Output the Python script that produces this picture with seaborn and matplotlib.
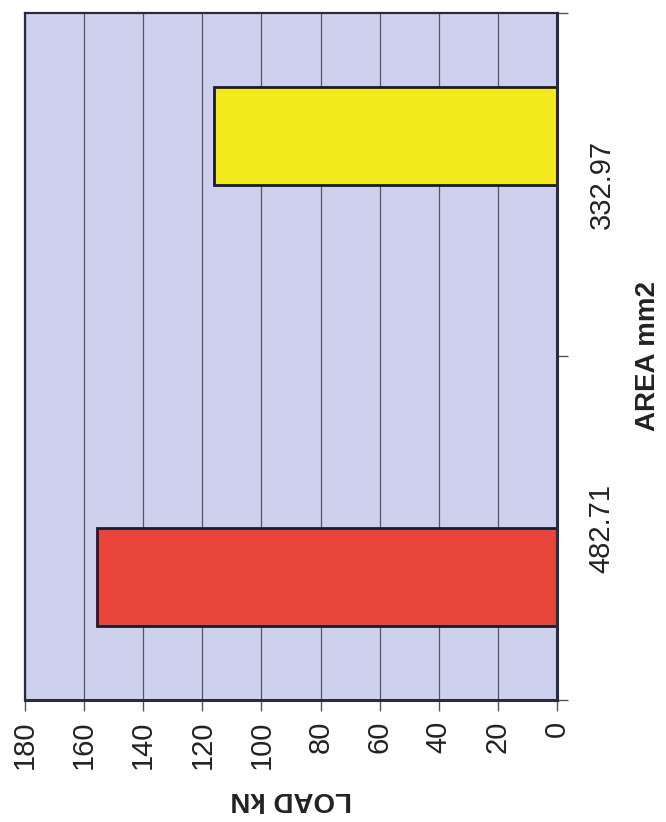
import matplotlib
matplotlib.use("Agg")
import matplotlib.pyplot as plt
import seaborn as sns
import pandas as pd

# ---- data ----
areas = ["482.71", "332.97"]          # category labels (AREA mm2)
loads = [155.5, 116.0]                # LOAD kN
series = ["Series1", "Series2"]       # each bar belongs to its own series (Excel clustered)
series_colors = {"Series1": "#E8443A", "Series2": "#F3EA1E"}
value_ticks = [0, 20, 40, 60, 80, 100, 120, 140, 160, 180]

df = pd.DataFrame({"area": areas, "load": loads, "series": series})

sns.set_theme(style="white")
plt.rcParams["font.family"] = ["Liberation Sans", "DejaVu Sans"]

fig = plt.figure(figsize=(6.66, 8.22), dpi=100)
fig.patch.set_facecolor("white")
ax = fig.add_axes([25 / 666, 1 - 700 / 822, (557 - 25) / 666, (700 - 13) / 822])
ax.set_facecolor("#CED1EE")

sns.barplot(
    data=df, x="load", y="area", hue="series",
    order=["332.97", "482.71"], hue_order=["Series2", "Series1"],
    palette=series_colors, saturation=1, width=0.57, dodge=True,
    edgecolor="#1C1A30", linewidth=2, legend=False, ax=ax, zorder=3,
)

ax.set_xlim(180, 0)
ax.set_ylim(1.5, -0.5)
ax.set_xticks(value_ticks)
ax.set_xticklabels([str(v) for v in value_ticks], rotation=90, fontsize=21, color="#222222")
ax.grid(axis="x", color="#555566", linewidth=0.9, zorder=1)
ax.grid(axis="y", visible=False)
ax.set_axisbelow(True)
ax.tick_params(axis="x", direction="out", length=8, width=1, color="#555555", pad=7, bottom=True)

ax.yaxis.tick_right()
ax.yaxis.set_label_position("right")
ax.set_yticks([0, 1])
ax.set_yticklabels(["332.97", "482.71"], rotation=90, va="center", fontsize=21, color="#222222")
ax.tick_params(axis="y", which="major", length=0, pad=22, right=True, left=False)
ax.set_yticks([-0.5, 0.5, 1.5], minor=True)
ax.tick_params(axis="y", which="minor", direction="out", length=8, width=1, color="#555555", right=True, left=False)

ax.set_xlabel("LOAD kN", rotation=180, fontsize=20, fontweight="bold", labelpad=12, color="#222222")
ax.set_ylabel("AREA mm2", rotation=90, fontsize=20, fontweight="bold", labelpad=14, color="#222222")

for side in ["top", "left"]:
    ax.spines[side].set_color("#2A2A3A")
    ax.spines[side].set_linewidth(1.6)
for side in ["bottom", "right"]:
    ax.spines[side].set_color("#2A2A44")
    ax.spines[side].set_linewidth(2.2)
    ax.spines[side].set_zorder(4)

fig.savefig("out.png", dpi=100)
